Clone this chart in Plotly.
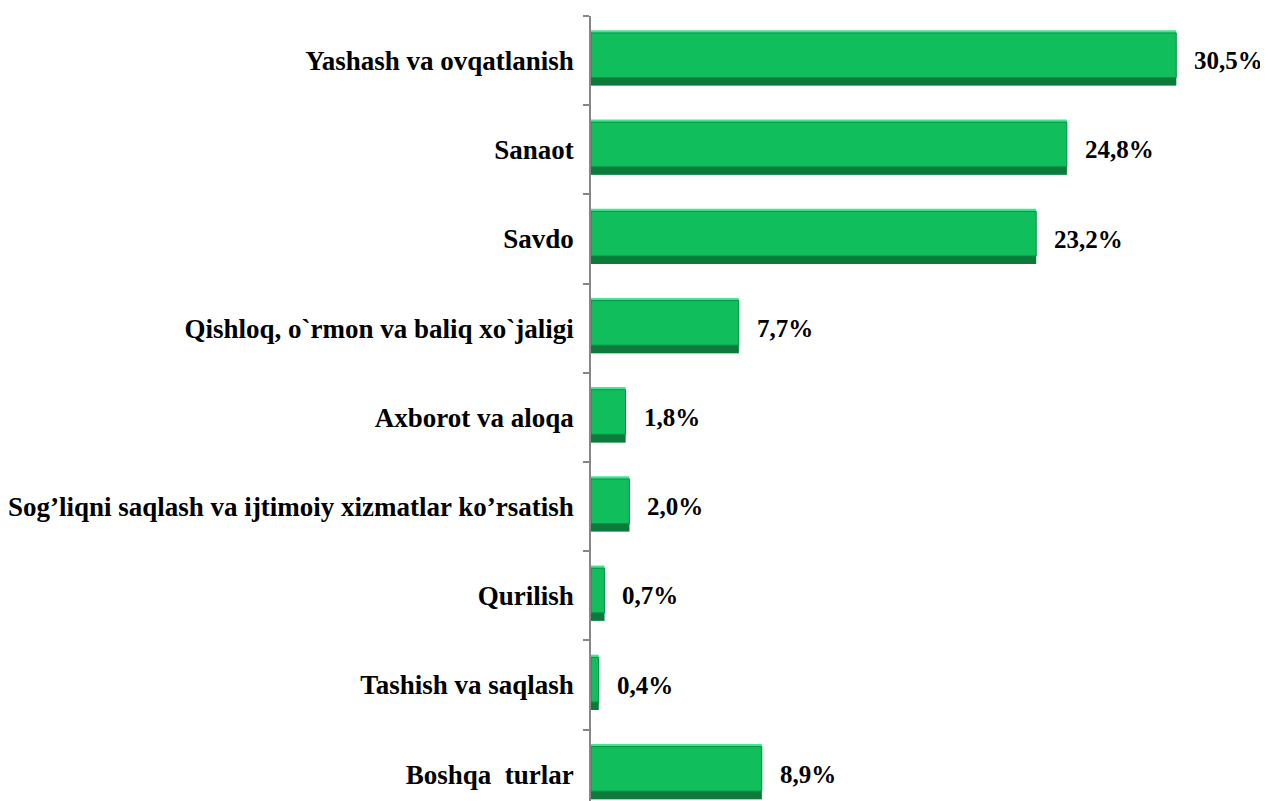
import plotly.graph_objects as go

categories = [
    "Yashash va ovqatlanish",
    "Sanaot",
    "Savdo",
    "Qishloq, o`rmon va baliq xo`jaligi",
    "Axborot va aloqa",
    "Sog’liqni saqlash va ijtimoiy xizmatlar ko’rsatish",
    "Qurilish",
    "Tashish va saqlash",
    "Boshqa  turlar",
]
values = [30.5, 24.8, 23.2, 7.7, 1.8, 2.0, 0.7, 0.4, 8.9]
value_labels = ["30,5%", "24,8%", "23,2%", "7,7%", "1,8%", "2,0%", "0,7%", "0,4%", "8,9%"]

FONT = "Liberation Serif"

fig = go.Figure()
# bevel layers: light top edge, dark bottom edge, main face
fig.add_trace(go.Bar(
    y=categories, x=values, orientation="h", width=0.62, offset=-0.34,
    marker=dict(color="#46E592", line=dict(width=0)), hoverinfo="skip",
))
fig.add_trace(go.Bar(
    y=categories, x=values, orientation="h", width=0.59, offset=-0.31,
    marker=dict(color="#0C7A3B", line=dict(width=0)), hoverinfo="skip",
))
fig.add_trace(go.Bar(
    y=categories, x=values, orientation="h", width=0.50, offset=-0.31,
    marker=dict(color="#10BE5C", line=dict(color="#0A9447", width=1)), hoverinfo="skip",
))

for c, v, t in zip(categories, values, value_labels):
    fig.add_annotation(x=v, y=c, text="<b>" + t + "</b>", showarrow=False, xanchor="left",
                       xshift=16, font=dict(family=FONT, size=25, color="#000000"))

fig.update_layout(
    width=1268, height=801,
    margin=dict(l=583, r=0, t=8, b=0),
    plot_bgcolor="white", paper_bgcolor="white",
    showlegend=False,
    barmode="overlay",
)
fig.update_xaxes(range=[0, 35.7], visible=False)
fig.update_yaxes(
    type="category", range=[8.39, -0.5], automargin=False,
    showline=True, linecolor="#868686", linewidth=1.5,
    ticks="outside", tickson="boundaries", ticklen=6, tickcolor="#868686", tickwidth=1.5,
    tickfont=dict(family=FONT, size=27, color="#000000"),
    ticklabelstandoff=10,
    tickprefix="<b>", ticksuffix="</b>",
    showgrid=False, zeroline=False,
)

fig.write_html("out.html")
